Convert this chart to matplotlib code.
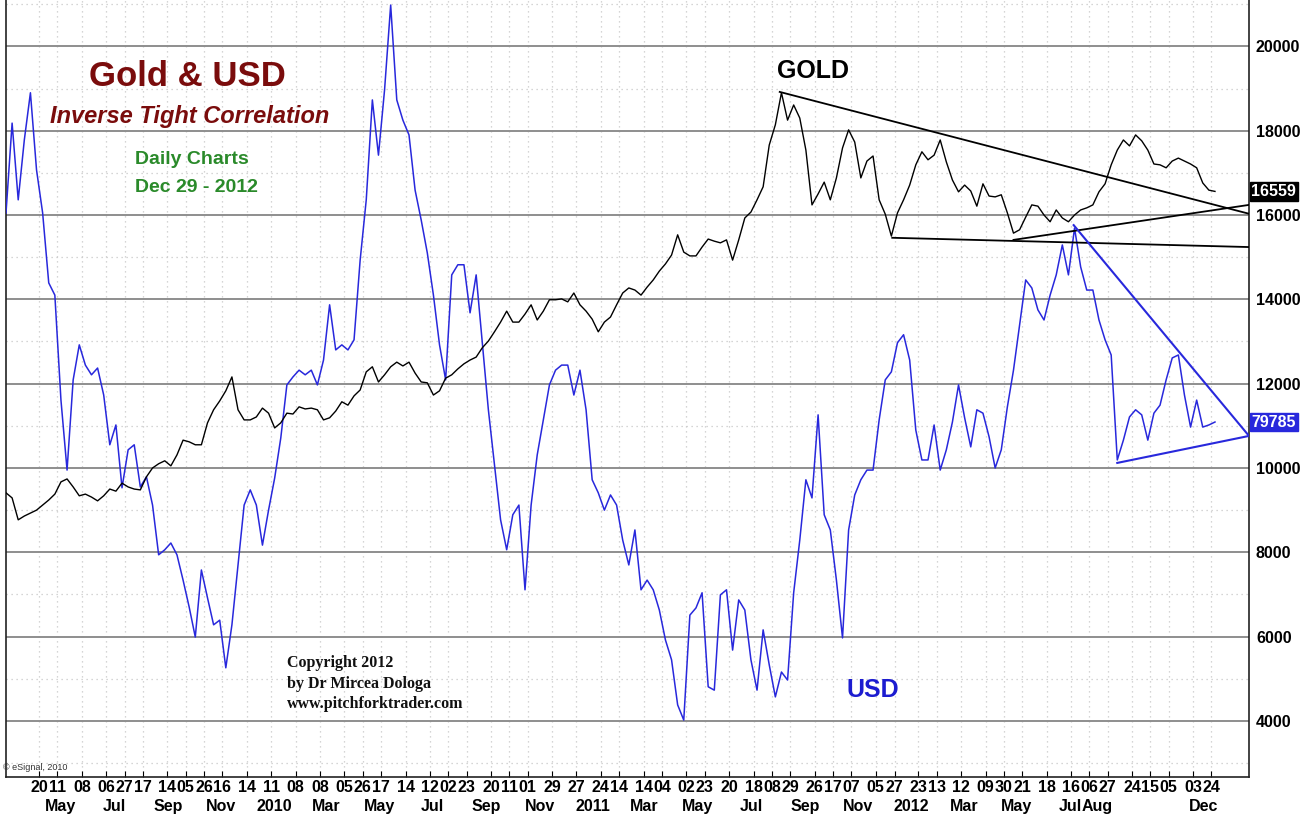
import matplotlib
matplotlib.use("Agg")
import matplotlib.pyplot as plt
import matplotlib.transforms as mtransforms
from matplotlib import font_manager
import pandas as pd

# weekly closes (Fridays), Mar 13 2009 .. Dec 28 2012, chart scale units
weeks = pd.date_range("2009-03-13", "2012-12-28", freq="W-FRI")

usd = [16050, 18180, 16360, 17780, 18900, 17070, 16050, 14390, 14100, 11610,
       9950, 12090, 12920, 12440, 12210, 12370, 11730, 10550, 11020, 9530,
       10430, 10550, 9550, 9790, 9120, 7940, 8060, 8220, 7940, 7340,
       6700, 5990, 7580, 6920, 6280, 6390, 5260, 6280, 7700, 9120,
       9480, 9120, 8170, 9000, 9760, 10710, 11970, 12160, 12320, 12210,
       12320, 11970, 12560, 13870, 12800, 12920, 12800, 13040, 14930, 16360,
       18730, 17420, 18970, 20980, 18730, 18250, 17900, 16590, 15880, 15100,
       14100, 12920, 12090, 14580, 14820, 14820, 13680, 14580, 12970, 11380,
       10070, 8770, 8060, 8890, 9120, 7110, 9120, 10310, 11140, 11970,
       12320, 12440, 12440, 11730, 12320, 11380, 9720, 9410, 9000, 9360,
       9120, 8290, 7700, 8530, 7110, 7340, 7110, 6630, 5920, 5450,
       4380, 4020, 6510, 6680, 7040, 4810, 4730, 6990, 7110, 5680,
       6870, 6630, 5450, 4730, 6160, 5330, 4570, 5160, 4970, 7040,
       8290, 9720, 9290, 11260, 8890, 8530, 7340, 5970, 8530, 9360,
       9720, 9950, 9950, 11140, 12090, 12280, 12970, 13160, 12560, 10900,
       10190, 10190, 11020, 9950, 10430, 11090, 11970, 11190, 10500, 11380,
       11300, 10740, 10000, 10430, 11450, 12320, 13390, 14460, 14270, 13750,
       13510, 14100, 14580, 15290, 14580, 15690, 14770, 14220, 14220, 13510,
       13040, 12680, 10190, 10660, 11210, 11380, 11260, 10660, 11300, 11490,
       12090, 12610, 12680, 11730, 10970, 11610, 10970, 11020, 11090]

gold = [9410, 9290, 8770, 8860, 8930, 9000, 9120, 9240, 9380, 9670,
        9740, 9550, 9340, 9380, 9310, 9220, 9340, 9500, 9450, 9640,
        9550, 9500, 9480, 9790, 10000, 10100, 10170, 10050, 10310, 10660,
        10620, 10550, 10550, 11070, 11380, 11590, 11830, 12160, 11380, 11140,
        11140, 11210, 11420, 11300, 10950, 11070, 11300, 11280, 11450, 11400,
        11420, 11380, 11140, 11190, 11350, 11570, 11490, 11710, 11850, 12280,
        12400, 12040, 12210, 12400, 12510, 12420, 12510, 12250, 12040, 12020,
        11730, 11830, 12130, 12210, 12350, 12470, 12560, 12630, 12850, 13010,
        13230, 13460, 13720, 13460, 13460, 13650, 13870, 13510, 13720, 13990,
        13990, 14010, 13940, 14150, 13870, 13720, 13530, 13230, 13460, 13580,
        13870, 14150, 14270, 14220, 14100, 14290, 14460, 14670, 14840, 15050,
        15530, 15120, 15030, 15030, 15240, 15430, 15380, 15340, 15410, 14930,
        15410, 15930, 16070, 16360, 16670, 17660, 18140, 18900, 18250, 18610,
        18300, 17540, 16240, 16500, 16780, 16360, 16880, 17590, 18020, 17730,
        16880, 17280, 17400, 16360, 16020, 15500, 16050, 16360, 16710, 17190,
        17500, 17310, 17420, 17780, 17260, 16830, 16550, 16710, 16570, 16210,
        16740, 16450, 16430, 16480, 16050, 15570, 15650, 15950, 16240, 16210,
        16000, 15840, 16120, 15930, 15840, 16000, 16120, 16170, 16240, 16550,
        16740, 17190, 17540, 17780, 17640, 17900, 17760, 17540, 17210, 17190,
        17120, 17280, 17350, 17280, 17210, 17120, 16760, 16590, 16560]

# hand-drawn trendlines: (start date, start value, end date, end value)
gold_lines = [("2011-08-17", 18920, "2013-02-05", 16030),
              ("2011-12-24", 15460, "2013-02-05", 15240),
              ("2012-05-11", 15410, "2013-02-05", 16240)]
usd_lines = [("2012-07-19", 15760, "2013-02-05", 10760),
             ("2012-09-07", 10120, "2013-02-05", 10760)]

gold_last = "16559"
usd_last = "79785"

day_ticks = ["2009-04-20", "2009-05-11", "2009-06-08", "2009-07-06", "2009-07-27",
             "2009-08-17", "2009-09-14", "2009-10-05", "2009-10-26", "2009-11-16",
             "2009-12-14", "2010-01-11", "2010-02-08", "2010-03-08", "2010-04-05",
             "2010-04-26", "2010-05-17", "2010-06-14", "2010-07-12", "2010-08-02",
             "2010-08-23", "2010-09-20", "2010-10-11", "2010-11-01", "2010-11-29",
             "2010-12-27", "2011-01-24", "2011-02-14", "2011-03-14", "2011-04-04",
             "2011-05-02", "2011-05-23", "2011-06-20", "2011-07-18", "2011-08-08",
             "2011-08-29", "2011-09-26", "2011-10-17", "2011-11-07", "2011-12-05",
             "2011-12-27", "2012-01-23", "2012-02-13", "2012-03-12", "2012-04-09",
             "2012-04-30", "2012-05-21", "2012-06-18", "2012-07-16", "2012-08-06",
             "2012-08-27", "2012-09-24", "2012-10-15", "2012-11-05", "2012-12-03",
             "2012-12-24"]
month_ticks = ["2009-05-15", "2009-07-15", "2009-09-15", "2009-11-15", "2010-01-15",
               "2010-03-15", "2010-05-15", "2010-07-15", "2010-09-15", "2010-11-15",
               "2011-01-15", "2011-03-15", "2011-05-15", "2011-07-15", "2011-09-15",
               "2011-11-15", "2012-01-15", "2012-03-15", "2012-05-15", "2012-07-15",
               "2012-08-15", "2012-10-15", "2012-12-15"]
month_labels = ["May", "Jul", "Sep", "Nov", "2010", "Mar", "May", "Jul", "Sep", "Nov",
                "2011", "Mar", "May", "Jul", "Sep", "Nov", "2012", "Mar", "May", "Jul",
                "Aug", "Oct", "Dec"]

y_major = list(range(4000, 20001, 2000))
y_minor = list(range(3000, 21001, 2000))

BLUE = "#2828dc"
plt.rcParams["font.family"] = ["Liberation Sans", "DejaVu Sans"]

# narrow face for the crowded date labels, if there is one
names = {f.name for f in font_manager.fontManager.ttflist}
date_family = "Liberation Sans Narrow" if "Liberation Sans Narrow" in names else "Liberation Sans"
date_size = 14 if date_family == "Liberation Sans Narrow" else 11.5

fig = plt.figure(figsize=(13.07, 8.16), dpi=100)
ax = fig.add_axes([6 / 1307, 39 / 816, 1243 / 1307, 777 / 816])

ax.plot(weeks, usd, color=BLUE, lw=1.1, zorder=3)
ax.plot(weeks, gold, color="black", lw=1.0, zorder=3)
for d0, v0, d1, v1 in gold_lines:
    ax.plot([pd.Timestamp(d0), pd.Timestamp(d1)], [v0, v1], color="black", lw=1.3, zorder=4)
for d0, v0, d1, v1 in usd_lines:
    ax.plot([pd.Timestamp(d0), pd.Timestamp(d1)], [v0, v1], color=BLUE, lw=1.5, zorder=4)

ax.set_xlim(pd.Timestamp("2009-03-13"), pd.Timestamp("2013-02-05"))
ax.set_ylim(2670, 21100)

# y axis on the right
ax.yaxis.tick_right()
ax.set_yticks(y_major)
ax.set_yticks(y_minor, minor=True)
ax.set_yticklabels([str(v) for v in y_major])
ax.tick_params(axis="y", which="both", length=0, pad=5, labelsize=11.5)
for t in ax.get_yticklabels():
    t.set_fontweight("bold")
ax.grid(axis="y", which="major", ls="-", color="#8e8e8e", lw=1.4, zorder=1)
ax.grid(axis="y", which="minor", ls=(0, (1, 3)), color="#c8c8c8", lw=0.9, zorder=1)

# x axis: day numbers on top row, months/years below
ax.set_xticks([pd.Timestamp(d) for d in day_ticks])
ax.set_xticklabels([d[-2:] for d in day_ticks])
ax.set_xticks([pd.Timestamp(d) for d in month_ticks], minor=True)
ax.set_xticklabels(month_labels, minor=True)
ax.tick_params(axis="x", which="major", direction="in", length=4, pad=2)
ax.tick_params(axis="x", which="minor", length=0, pad=16)
for t in ax.get_xticklabels() + ax.get_xticklabels(minor=True):
    t.set_fontweight("bold")
    t.set_family(date_family)
    t.set_fontsize(date_size)
ax.grid(axis="x", which="major", ls=(0, (1, 3)), color="#c8c8c8", lw=0.9, zorder=1)

ax.spines["top"].set_visible(False)
for s in ("left", "right", "bottom"):
    ax.spines[s].set_color("#222222")
    ax.spines[s].set_linewidth(1.2)

# last-value tags on the right scale
tr = mtransforms.blended_transform_factory(ax.transAxes, ax.transData)
ax.text(1.002, gold[-1], gold_last, transform=tr, ha="left", va="center",
        color="white", fontsize=11.5, fontweight="bold", clip_on=False,
        bbox=dict(boxstyle="square,pad=0.12", facecolor="black", edgecolor="black"))
ax.text(1.002, usd[-1], usd_last, transform=tr, ha="left", va="center",
        color="white", fontsize=11.5, fontweight="bold", clip_on=False,
        bbox=dict(boxstyle="square,pad=0.12", facecolor=BLUE, edgecolor=BLUE))

# titles and notes
fig.text(187 / 1307, 1 - 77 / 816, "Gold & USD", ha="center", va="center",
         fontsize=25, fontweight="bold", color="#7a0c0c")
fig.text(190 / 1307, 1 - 116 / 816, "Inverse Tight Correlation", ha="center", va="center",
         fontsize=17, fontweight="bold", fontstyle="italic", color="#7a0c0c")
fig.text(135 / 1307, 1 - 160 / 816, "Daily Charts", ha="left", va="center",
         fontsize=14, fontweight="bold", color="#2a8a2a")
fig.text(135 / 1307, 1 - 187 / 816, "Dec 29 - 2012", ha="left", va="center",
         fontsize=14, fontweight="bold", color="#2a8a2a")
fig.text(777 / 1307, 1 - 71 / 816, "GOLD", ha="left", va="center",
         fontsize=18, fontweight="bold", color="black")
fig.text(847 / 1307, 1 - 690 / 816, "USD", ha="left", va="center",
         fontsize=18, fontweight="bold", color="#1c1cd0")
for i, line in enumerate(["Copyright 2012", "by Dr Mircea Dologa", "www.pitchforktrader.com"]):
    fig.text(287 / 1307, 1 - (663 + 20.5 * i) / 816, line, ha="left", va="center",
             fontsize=11.5, fontweight="bold", family="Liberation Serif", color="#111111")
fig.text(3 / 1307, 1 - 768 / 816, "\u00a9 eSignal, 2010", ha="left", va="center",
         fontsize=6.5, color="#333333")

fig.savefig("out.png", dpi=100)
